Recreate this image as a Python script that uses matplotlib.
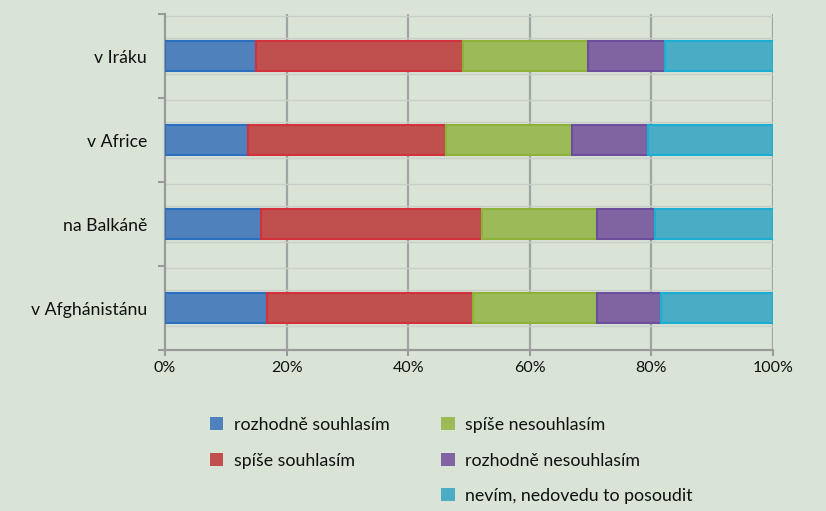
import matplotlib.pyplot as plt
import numpy as np
from matplotlib.patches import Patch

# data (percent)
categories = ["v Iráku", "v Africe", "na Balkáně", "v Afghánistánu"]
series_names = ["rozhodně souhlasím", "spíše souhlasím", "spíše nesouhlasím",
                "rozhodně nesouhlasím", "nevím, nedovedu to posoudit"]
rozhodne_souhlasim = [15.0, 13.7, 15.8, 16.8]
spise_souhlasim = [34.0, 32.5, 36.3, 33.8]
spise_nesouhlasim = [20.6, 20.8, 18.9, 20.4]
rozhodne_nesouhlasim = [12.6, 12.4, 9.6, 10.6]
nevim = [17.8, 20.6, 19.4, 18.4]

colors = ["#4f81bd", "#c0504d", "#9bbb59", "#8064a2", "#4bacc6"]
edges = ["#2a6fc0", "#d2323c", "#8cb23a", "#6c4f9c", "#1aaed0"]
bg = "#d9e4d7"

plt.rcParams['font.family'] = ['Lato', 'DejaVu Sans']

fig = plt.figure(figsize=(8.26, 5.11), dpi=100, facecolor=bg)
ax = fig.add_axes([165/826, 1-350/511, 608/826, 336/511])
ax.set_facecolor(bg)

ypos = np.arange(len(categories))[::-1]
h = 0.36
left = np.zeros(len(categories))
all_series = [rozhodne_souhlasim, spise_souhlasim, spise_nesouhlasim,
              rozhodne_nesouhlasim, nevim]
for vals, c, e, name in zip(all_series, colors, edges, series_names):
    vals = np.array(vals)
    ax.barh(ypos, vals, left=left, height=h, color=c, edgecolor=e,
            linewidth=1.5, zorder=3, label=name)
    left += vals

ax.set_xlim(0, 100)
ax.set_ylim(-0.5, len(categories) - 0.5)

# grid: vertical lines and faint box edges around the gaps
for x in range(20, 101, 20):
    ax.axvline(x, color="#a3a3a3", lw=1.6, zorder=1)
for y in ypos:
    for d in (h/2 + 0.03, -(h/2 + 0.03)):
        ax.axhline(y + d, color="#c9cfc8", lw=1.0, zorder=1)
    ax.axhline(y + 0.5 - 0.02, color="#c9cfc8", lw=1.0, zorder=1)

ax.set_xticks(range(0, 101, 20))
ax.set_xticklabels([f"{x}%" for x in range(0, 101, 20)])
ax.set_yticks(ypos)
ax.set_yticklabels(categories)
ax.set_yticks(np.arange(-0.5, len(categories)), minor=True)
ax.tick_params(axis="y", which="major", length=0, pad=13, labelsize=12.7,
               colors="#111111")
ax.tick_params(axis="y", which="minor", length=5, color="#9a9a9a", width=1.5)
ax.tick_params(axis="x", length=4, color="#9a9a9a", width=1.5, pad=4,
               labelsize=11.5, labelcolor="#111111")

for s in ["top", "right"]:
    ax.spines[s].set_visible(False)
for s in ["left", "bottom"]:
    ax.spines[s].set_color("#9a9a9a")
    ax.spines[s].set_linewidth(1.6)

# legend: two entries in first column, three in second
handles = [Patch(facecolor=c, edgecolor="none") for c in colors]
blank = Patch(facecolor="none", edgecolor="none")
hs = [handles[0], handles[1], blank, handles[2], handles[3], handles[4]]
labels = [series_names[0], series_names[1], "", series_names[2],
          series_names[3], series_names[4]]
fig.legend(hs, labels, loc="upper left", bbox_to_anchor=(194/826, 1-401/511),
           ncol=2, frameon=False, fontsize=12.8, handlelength=0.75,
           handleheight=0.75, handletextpad=0.6, labelspacing=1.1,
           columnspacing=2.9, labelcolor="#111111")

fig.savefig("out.png", dpi=100, facecolor=bg)
